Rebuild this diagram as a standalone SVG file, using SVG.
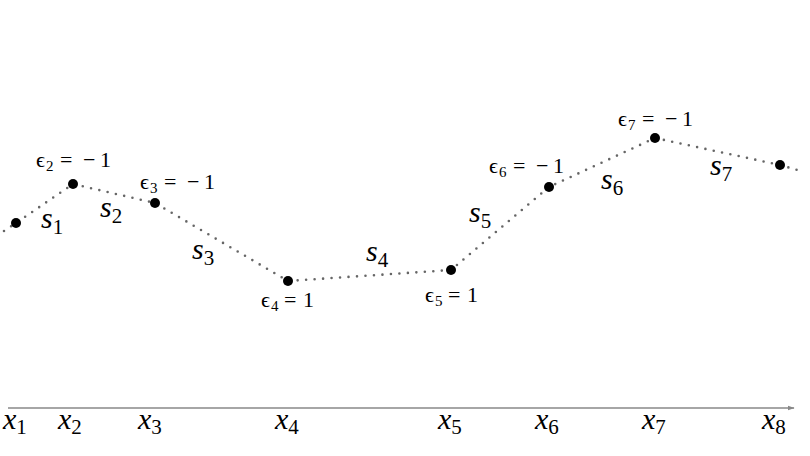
<svg xmlns="http://www.w3.org/2000/svg" width="810" height="456" viewBox="0 0 810 456">
<defs>
<style>
.dot{fill:#000}
.curve{fill:none;stroke:#666;stroke-width:2.6;stroke-linecap:round;stroke-dasharray:0 8.5}
.axis{fill:none;stroke:#888;stroke-width:1.3}
</style>
<marker id="arr" viewBox="0 0 10 10" refX="9" refY="5" markerWidth="7" markerHeight="7" orient="auto" markerUnits="userSpaceOnUse">
<path d="M0,1.5 L10,5 L0,8.5 Z" fill="#888"/>
</marker>
</defs>
<rect width="810" height="456" fill="#fff"/>
<g id="connectors">
<polyline class="curve" points="4,231 16,223 73,184 155,203 288,281 451,270 549,187 655,138 780,165 801,171"/>
<line class="axis" x1="8" y1="408" x2="794" y2="408" marker-end="url(#arr)"/>
</g>
<g id="p1"><circle class="dot" cx="16" cy="223" r="5"/></g>
<g id="p2"><circle class="dot" cx="73" cy="184" r="5"/></g>
<g id="p3"><circle class="dot" cx="155" cy="203" r="5"/></g>
<g id="p4"><circle class="dot" cx="288" cy="281" r="5"/></g>
<g id="p5"><circle class="dot" cx="451" cy="270" r="5"/></g>
<g id="p6"><circle class="dot" cx="549" cy="187" r="5"/></g>
<g id="p7"><circle class="dot" cx="655" cy="138" r="5"/></g>
<g id="p8"><circle class="dot" cx="780" cy="165" r="5"/></g>
<g id="seg-labels">
<text font-family="Liberation Serif" font-style="italic" font-size="30" x="41" y="228">s<tspan font-style="normal" font-size="21" dy="6">1</tspan></text>
<text font-family="Liberation Serif" font-style="italic" font-size="30" x="100" y="217">s<tspan font-style="normal" font-size="21" dy="6">2</tspan></text>
<text font-family="Liberation Serif" font-style="italic" font-size="30" x="192" y="259">s<tspan font-style="normal" font-size="21" dy="6">3</tspan></text>
<text font-family="Liberation Serif" font-style="italic" font-size="30" x="366" y="261">s<tspan font-style="normal" font-size="21" dy="6">4</tspan></text>
<text font-family="Liberation Serif" font-style="italic" font-size="30" x="469" y="222">s<tspan font-style="normal" font-size="21" dy="6">5</tspan></text>
<text font-family="Liberation Serif" font-style="italic" font-size="30" x="601" y="189">s<tspan font-style="normal" font-size="21" dy="6">6</tspan></text>
<text font-family="Liberation Serif" font-style="italic" font-size="30" x="710" y="175">s<tspan font-style="normal" font-size="21" dy="6">7</tspan></text>
</g>
<g id="eps-labels">
<text font-family="Liberation Serif" font-size="22" x="36" y="167">ϵ<tspan font-size="15" x="46" dy="4">2</tspan><tspan x="60" dy="-4">=</tspan><tspan x="83">−</tspan><tspan x="100">1</tspan></text>
<text font-family="Liberation Serif" font-size="22" x="140" y="189">ϵ<tspan font-size="15" x="150" dy="4">3</tspan><tspan x="164" dy="-4">=</tspan><tspan x="187">−</tspan><tspan x="204">1</tspan></text>
<text font-family="Liberation Serif" font-size="22" x="261" y="307">ϵ<tspan font-size="15" x="271" dy="4">4</tspan><tspan x="284" dy="-4">=</tspan><tspan x="303">1</tspan></text>
<text font-family="Liberation Serif" font-size="22" x="425" y="302">ϵ<tspan font-size="15" x="435" dy="4">5</tspan><tspan x="448" dy="-4">=</tspan><tspan x="467">1</tspan></text>
<text font-family="Liberation Serif" font-size="22" x="489" y="173">ϵ<tspan font-size="15" x="499" dy="4">6</tspan><tspan x="513" dy="-4">=</tspan><tspan x="536">−</tspan><tspan x="553">1</tspan></text>
<text font-family="Liberation Serif" font-size="22" x="618" y="126">ϵ<tspan font-size="15" x="628" dy="4">7</tspan><tspan x="642" dy="-4">=</tspan><tspan x="665">−</tspan><tspan x="682">1</tspan></text>
</g>
<g id="axis-labels">
<text font-family="Liberation Serif" font-style="italic" font-size="30" x="3" y="429">x<tspan font-style="normal" font-size="21" dy="5">1</tspan></text>
<text font-family="Liberation Serif" font-style="italic" font-size="30" x="58" y="429">x<tspan font-style="normal" font-size="21" dy="5">2</tspan></text>
<text font-family="Liberation Serif" font-style="italic" font-size="30" x="138" y="429">x<tspan font-style="normal" font-size="21" dy="5">3</tspan></text>
<text font-family="Liberation Serif" font-style="italic" font-size="30" x="275" y="429">x<tspan font-style="normal" font-size="21" dy="5">4</tspan></text>
<text font-family="Liberation Serif" font-style="italic" font-size="30" x="438" y="429">x<tspan font-style="normal" font-size="21" dy="5">5</tspan></text>
<text font-family="Liberation Serif" font-style="italic" font-size="30" x="535" y="429">x<tspan font-style="normal" font-size="21" dy="5">6</tspan></text>
<text font-family="Liberation Serif" font-style="italic" font-size="30" x="642" y="429">x<tspan font-style="normal" font-size="21" dy="5">7</tspan></text>
<text font-family="Liberation Serif" font-style="italic" font-size="30" x="762" y="429">x<tspan font-style="normal" font-size="21" dy="5">8</tspan></text>
</g>
</svg>
